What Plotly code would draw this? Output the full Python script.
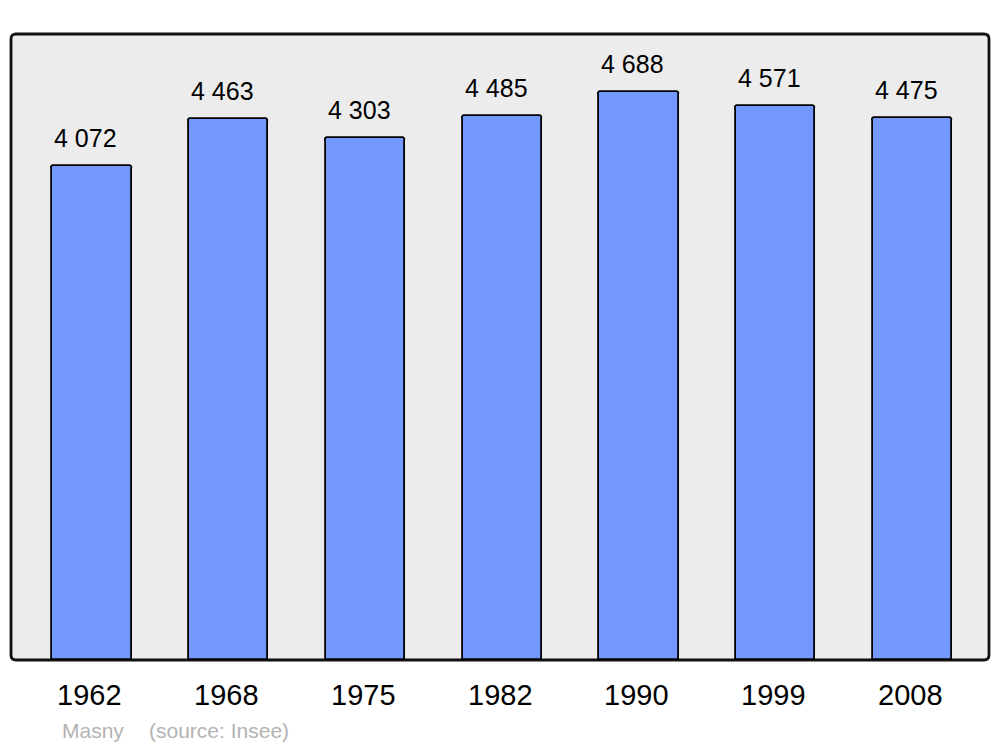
import plotly.graph_objects as go

years = ["1962", "1968", "1975", "1982", "1990", "1999", "2008"]
population = [4072, 4463, 4303, 4485, 4688, 4571, 4475]
value_labels = ["4 072", "4 463", "4 303", "4 485", "4 688", "4 571", "4 475"]
town = "Masny"
source = "(source: Insee)"

W, H = 1000, 747
# page body has an 8px margin, so shift the plot area up/left by 8px
L, T = 3, 26
pw, ph = 978, 626
R, B = W - L - pw, H - T - ph

fig = go.Figure(go.Bar(
    x=list(range(len(years))),
    y=population,
    width=0.58,
    marker=dict(color="#7399ff", line=dict(color="#000000", width=1.8), cornerradius=3),
    hoverinfo="skip",
))

for i, (v, lab) in enumerate(zip(population, value_labels)):
    fig.add_annotation(x=i, y=v, text=lab, showarrow=False, yanchor="bottom",
                       yshift=12, xshift=-6, font=dict(size=25, color="#000000"))

for i, yr in enumerate(years):
    fig.add_annotation(x=i, y=-35 / ph, yref="paper", text=yr, showarrow=False,
                       yanchor="middle", xshift=-2, font=dict(size=29, color="#000000"))

# rounded frame around the plot area
rx, ry = 5 / pw, 5 / ph
path = (f"M {rx} 0 L {1-rx} 0 Q 1 0 1 {ry} L 1 {1-ry} Q 1 1 {1-rx} 1 "
        f"L {rx} 1 Q 0 1 0 {1-ry} L 0 {ry} Q 0 0 {rx} 0 Z")
fig.add_shape(type="path", path=path, xref="paper", yref="paper",
              fillcolor="#ececec", line=dict(color="#111111", width=2.8), layer="below")

fig.add_annotation(x=49 / pw, y=-70 / ph, xref="paper", yref="paper",
                   text=town, showarrow=False, xanchor="left",
                   yanchor="middle", font=dict(size=21, color="#b3b3b3"))
fig.add_annotation(x=136 / pw, y=-70 / ph, xref="paper", yref="paper",
                   text=source, showarrow=False, xanchor="left",
                   yanchor="middle", font=dict(size=21, color="#b3b3b3"))

fig.update_layout(
    width=W, height=H,
    margin=dict(l=L, r=R, t=T, b=B),
    paper_bgcolor="#ffffff",
    plot_bgcolor="rgba(0,0,0,0)",
    font=dict(family="Liberation Sans, Arial, sans-serif", color="#000000"),
    showlegend=False,
    bargap=0,
    xaxis=dict(range=[-0.592, 6.56], showgrid=False, zeroline=False, showline=False,
               showticklabels=False, ticks=""),
    yaxis=dict(range=[0, 5165], showgrid=False, zeroline=False, showline=False,
               showticklabels=False),
)

fig.write_html("out.html")
